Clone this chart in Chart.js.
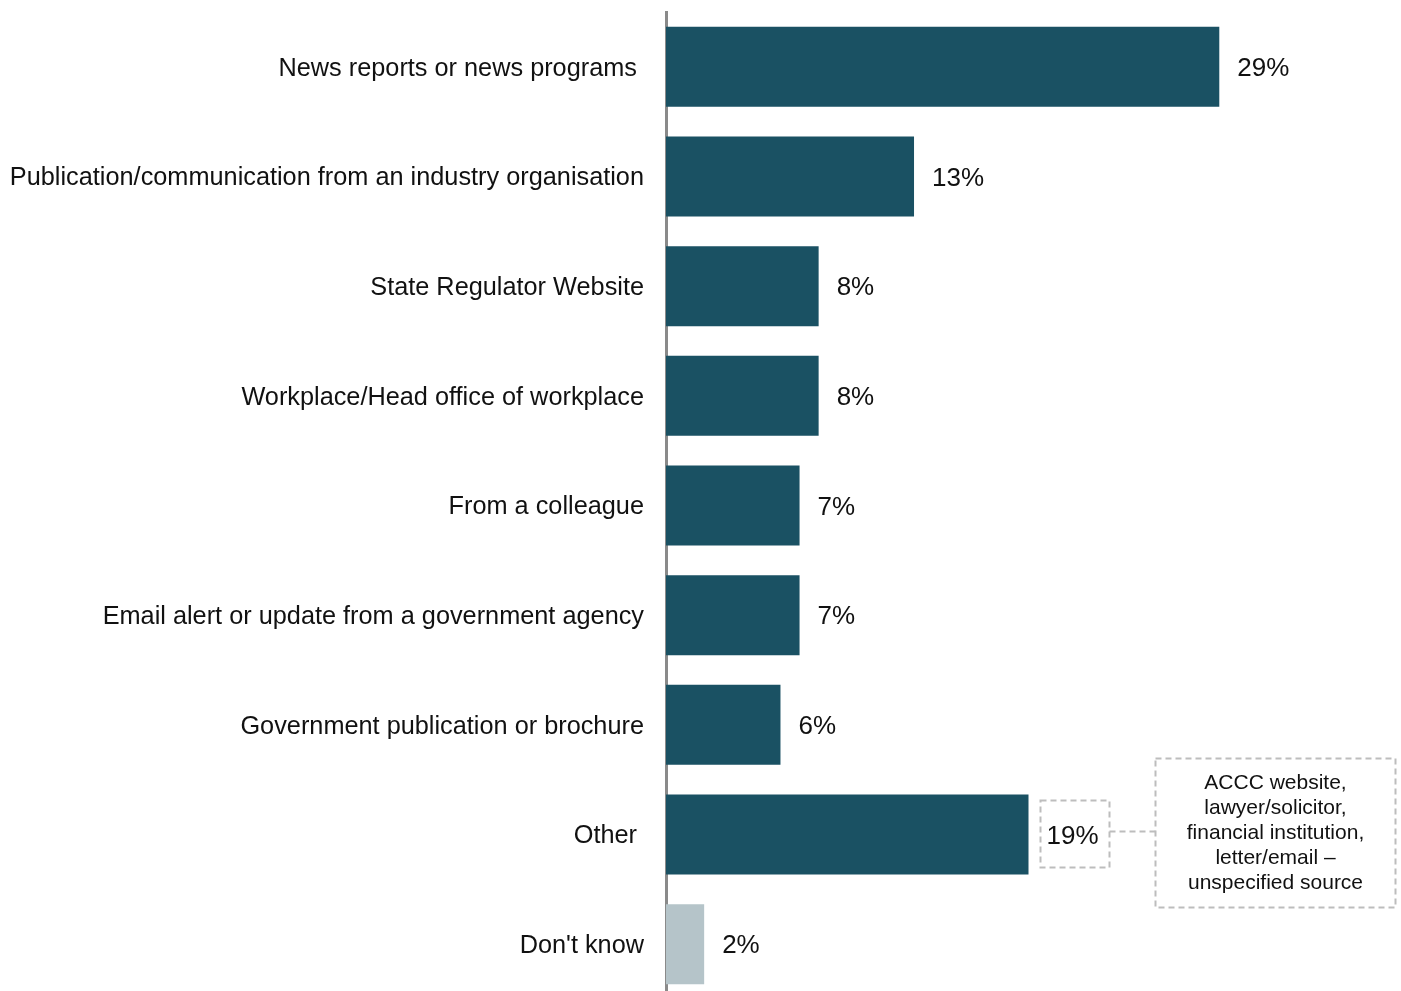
<!DOCTYPE html>
<html>
<head>
<meta charset="utf-8">
<script src="https://cdn.jsdelivr.net/npm/chart.js@4.4.0/dist/chart.umd.min.js"></script>
<style>
  html, body { margin: 0; padding: 0; background: #fff; overflow: hidden; }
  #wrap { position: relative; width: 1401px; height: 1000px; }
</style>
</head>
<body>
<div id="wrap"><canvas id="myChart"></canvas></div>
<script>
// categories and values
const categories = [
    'News reports or news programs ',
    'Publication/communication from an industry organisation',
    'State Regulator Website',
    'Workplace/Head office of workplace',
    'From a colleague',
    'Email alert or update from a government agency',
    'Government publication or brochure',
    'Other ',
    "Don't know"
];
const percents = [29, 13, 8, 8, 7, 7, 6, 19, 2];
const bar_colors = ['#1a5163', '#1a5163', '#1a5163', '#1a5163', '#1a5163', '#1a5163', '#1a5163', '#1a5163', '#b5c4c9'];
const other_note = ['ACCC website,', 'lawyer/solicitor,', 'financial institution,', 'letter/email \u2013', 'unspecified source'];
const note_index = 7;

const FONT = '"Liberation Sans", Arial, sans-serif';

// value labels + the dashed callout on "Other"
const value_labels = {
    id: 'value_labels',
    afterDatasetsDraw(chart) {
        const ctx = chart.ctx;
        const meta = chart.getDatasetMeta(0);
        ctx.save();
        ctx.font = '26px ' + FONT;
        ctx.fillStyle = '#111';
        ctx.textBaseline = 'middle';
        ctx.textAlign = 'left';
        meta.data.forEach((bar, i) => {
            ctx.fillText(percents[i] + '%', bar.x + 18, bar.y + 2);
        });

        // callout
        const bar = meta.data[note_index];
        ctx.strokeStyle = '#bdbdbd';
        ctx.lineWidth = 2;
        ctx.setLineDash([6, 4]);
        const bx = bar.x + 12, by = bar.y - 34;
        ctx.strokeRect(bx, by, 69, 67);
        ctx.beginPath();
        ctx.moveTo(bx + 69, bar.y - 3);
        ctx.lineTo(bx + 115, bar.y - 3);
        ctx.stroke();
        const nx = bx + 115, ny = bar.y - 76;
        ctx.strokeRect(nx, ny, 240, 149);
        ctx.setLineDash([]);
        ctx.font = '21px ' + FONT;
        ctx.textAlign = 'center';
        other_note.forEach((line, k) => {
            ctx.fillText(line, nx + 120, ny + 25 + k * 25);
        });
        ctx.restore();
    }
};

const ctx = document.getElementById('myChart').getContext('2d');
const myChart = new Chart(ctx, {
    type: 'bar',
    data: {
        labels: categories,
        datasets: [{
            data: percents,
            backgroundColor: bar_colors,
            borderWidth: 0,
            barPercentage: 0.73,
            categoryPercentage: 1
        }]
    },
    options: {
        indexAxis: 'y',
        responsive: true,
        maintainAspectRatio: false,
        animation: false,
        layout: { padding: { top: 12, bottom: 1, right: 10, left: 0 } },
        plugins: {
            legend: { display: false },
            tooltip: { enabled: false }
        },
        scales: {
            x: {
                display: false,
                min: 0,
                max: 38
            },
            y: {
                afterFit: (scale) => {
                    scale.width = 666;
                    scale.paddingTop = 0;
                    scale.paddingBottom = 0;
                },
                grid: { display: false, drawTicks: false },
                border: { display: true, color: '#8a8a8a', width: 3 },
                ticks: {
                    color: '#111',
                    padding: 22,
                    labelOffset: 2,
                    font: { family: FONT, size: 25.3 }
                }
            }
        }
    },
    plugins: [value_labels]
});
</script>
</body>
</html>
